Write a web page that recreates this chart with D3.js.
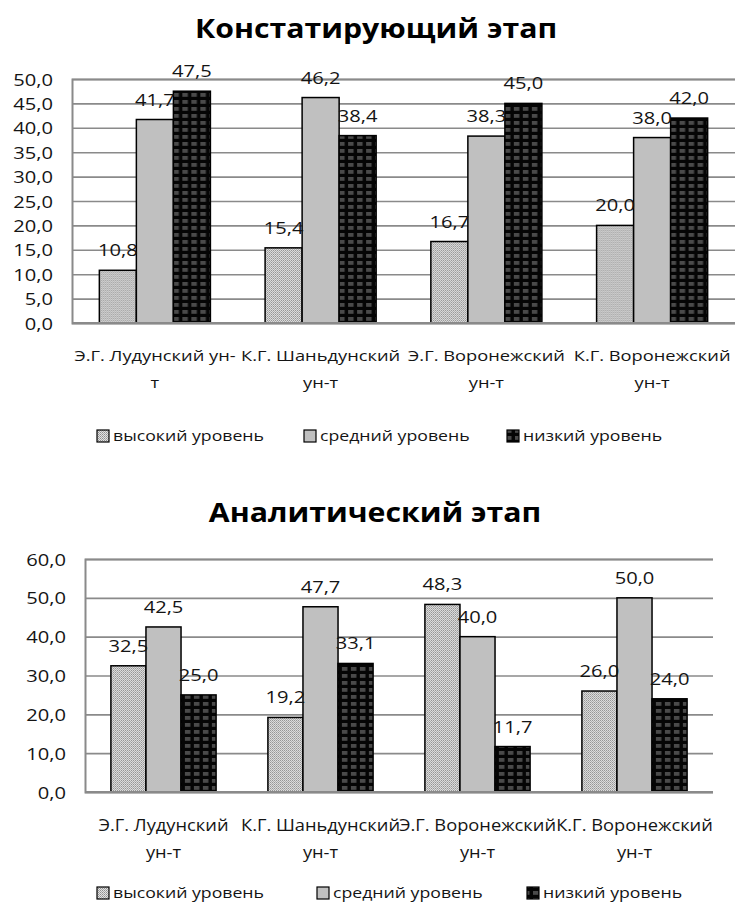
<!DOCTYPE html>
<html>
<head>
<meta charset="utf-8">
<script src="https://cdn.jsdelivr.net/npm/d3@7"></script>
<style>
  html, body { margin: 0; padding: 0; background: #fff; }
  svg { display: block; }
  text { font-family: "Open Sans", "Noto Sans", sans-serif; }
</style>
</head>
<body>
<svg id="chart" width="735" height="913"></svg>
<script>
// Universities compared in both stages
const categories = ["Э.Г. Лудунский ун-т", "К.Г. Шаньдунский ун-т", "Э.Г. Воронежский ун-т", "К.Г. Воронежский ун-т"];
// Wrapped category labels as they are printed under each chart
const stage1CatLines = [["Э.Г. Лудунский ун-", "т"], ["К.Г. Шаньдунский", "ун-т"], ["Э.Г. Воронежский", "ун-т"], ["К.Г. Воронежский", "ун-т"]];
const stage2CatLines = [["Э.Г. Лудунский", "ун-т"], ["К.Г. Шаньдунский", "ун-т"], ["Э.Г. Воронежский", "ун-т"], ["К.Г. Воронежский", "ун-т"]];
const seriesNames = ["высокий уровень", "средний уровень", "низкий уровень"];

// Констатирующий этап, %
const stage1High = [10.8, 15.4, 16.7, 20.0];
const stage1Mid  = [41.7, 46.2, 38.3, 38.0];
const stage1Low  = [47.5, 38.4, 45.0, 42.0];
const stage1Ticks = [0, 5, 10, 15, 20, 25, 30, 35, 40, 45, 50];

// Аналитический этап, %
const stage2High = [32.5, 19.2, 48.3, 26.0];
const stage2Mid  = [42.5, 47.7, 40.0, 50.0];
const stage2Low  = [25.0, 33.1, 11.7, 24.0];
const stage2Ticks = [0, 10, 20, 30, 40, 50, 60];

const ru = d3.formatLocale({ decimal: ",", thousands: " ", grouping: [3], currency: ["", " ₽"] });
const fmt = ru.format(".1f");

const svg = d3.select("#chart");
const SX = 1.22;        // horizontal stretch of the lettering
const TEXT = "#141414";
const GRID = "#8a8a8a";

// Fill patterns for the three levels
const defs = svg.append("defs");
const pDots = defs.append("pattern").attr("id", "pat-high")
  .attr("patternUnits", "userSpaceOnUse").attr("width", 2).attr("height", 2);
pDots.append("rect").attr("width", 2).attr("height", 2).attr("fill", "#e2e2e2");
pDots.append("rect").attr("width", 1).attr("height", 1).attr("fill", "#8e8e8e");
pDots.append("rect").attr("x", 1).attr("y", 1).attr("width", 1).attr("height", 1).attr("fill", "#a8a8a8");

const pGrid = defs.append("pattern").attr("id", "pat-low")
  .attr("patternUnits", "userSpaceOnUse").attr("width", 9).attr("height", 7);
pGrid.append("rect").attr("width", 9).attr("height", 7).attr("fill", "#050505");
pGrid.append("rect").attr("x", 2).attr("y", 2).attr("width", 5.5).attr("height", 3.8).attr("fill", "#4a4a4a");

const fills = ["url(#pat-high)", "#c0c0c0", "url(#pat-low)"];

function label(g, x, y, str, o) {
  return g.append("text")
    .attr("transform", `translate(${x},${y}) scale(${o.sx ?? SX},1)`)
    .attr("text-anchor", o.anchor || "middle")
    .attr("font-size", o.size)
    .attr("font-weight", o.weight || "normal")
    .attr("fill", o.color || TEXT)
    .text(str);
}

function drawChart(cfg) {
  const g = svg.append("g");
  const y = d3.scaleLinear().domain([0, d3.max(cfg.ticks)]).range([cfg.bottom, cfg.top]);
  const x0 = d3.scaleBand().domain(categories).range([cfg.left, cfg.right])
    .paddingInner(cfg.gap).paddingOuter(cfg.gap / 2);
  const x1 = d3.scaleBand().domain(seriesNames).range([0, x0.bandwidth()]);

  // Title
  label(g, cfg.titleX, cfg.titleY, cfg.title, { size: cfg.titleSize, weight: "bold", color: "#000", sx: cfg.titleSX });

  // Gridlines and value axis
  const yAxis = d3.axisLeft(y).tickValues(cfg.ticks).tickSize(-(cfg.right - cfg.left)).tickFormat(fmt).tickPadding(18);
  const ax = g.append("g").attr("transform", `translate(${cfg.left},0)`).call(yAxis);
  ax.select(".domain").attr("stroke", GRID).attr("stroke-width", 2);
  ax.selectAll(".tick line").attr("stroke", GRID).attr("stroke-width", 1.6);
  ax.selectAll(".tick text").remove();
  ax.selectAll(".tick").each(function (d) {
    label(d3.select(this), -19, 6, fmt(d), { size: cfg.tickSize, anchor: "end" });
  });

  // Bars
  const groups = g.append("g").selectAll("g").data(categories).join("g")
    .attr("transform", d => `translate(${x0(d)},0)`);
  const rows = (i) => seriesNames.map((s, k) => ({ s, k, v: cfg.series[k][i] }));
  groups.each(function (c, i) {
    const gg = d3.select(this);
    gg.selectAll("rect").data(rows(i)).join("rect")
      .attr("x", d => x1(d.s)).attr("width", x1.bandwidth())
      .attr("y", d => y(d.v)).attr("height", d => y(0) - y(d.v))
      .attr("fill", d => fills[d.k]).attr("stroke", "#000").attr("stroke-width", 1.5);
    rows(i).forEach(d => {
      label(gg, x1(d.s) + x1.bandwidth() / 2, y(d.v) - 14, fmt(d.v), { size: cfg.tickSize });
    });
  });

  // Baseline over the bars' bottoms
  g.append("line").attr("x1", cfg.left).attr("x2", cfg.right)
    .attr("y1", y(0)).attr("y2", y(0)).attr("stroke", GRID).attr("stroke-width", 2);

  // Category labels
  categories.forEach((c, i) => {
    const cx = x0(c) + x0.bandwidth() / 2;
    cfg.catLines[i].forEach((ln, j) => {
      label(g, cx, cfg.catY[j], ln, { size: cfg.catSize, sx: cfg.catSX });
    });
  });

  // Legend
  seriesNames.forEach((s, k) => {
    const lx = cfg.legendX[k];
    g.append("rect").attr("x", lx).attr("y", cfg.legendY - 11).attr("width", cfg.swatch).attr("height", cfg.swatch)
      .attr("fill", fills[k]).attr("stroke", "#000").attr("stroke-width", 1.2);
    label(g, lx + cfg.swatch + 4, cfg.legendY, s, { size: cfg.legendSize, anchor: "start" });
  });
}

drawChart({
  title: "Констатирующий этап", titleX: 376, titleY: 38, titleSize: 27, titleSX: 1.12,
  series: [stage1High, stage1Mid, stage1Low], ticks: stage1Ticks,
  left: 72, right: 735, top: 79, bottom: 323, gap: 0.33,
  tickSize: 16.5, catSize: 15, catSX: 1.22, catLines: stage1CatLines, catY: [361, 388],
  legendX: [97, 304, 507], legendY: 441, swatch: 12, legendSize: 14.5
});

drawChart({
  title: "Аналитический этап", titleX: 375, titleY: 522, titleSize: 27, titleSX: 1.12,
  series: [stage2High, stage2Mid, stage2Low], ticks: stage2Ticks,
  left: 85, right: 713, top: 559, bottom: 792, gap: 0.33,
  tickSize: 16.5, catSize: 15.5, catSX: 1.18, catLines: stage2CatLines, catY: [831, 858],
  legendX: [97, 317, 527], legendY: 898, swatch: 12, legendSize: 14.5
});
</script>
</body>
</html>
